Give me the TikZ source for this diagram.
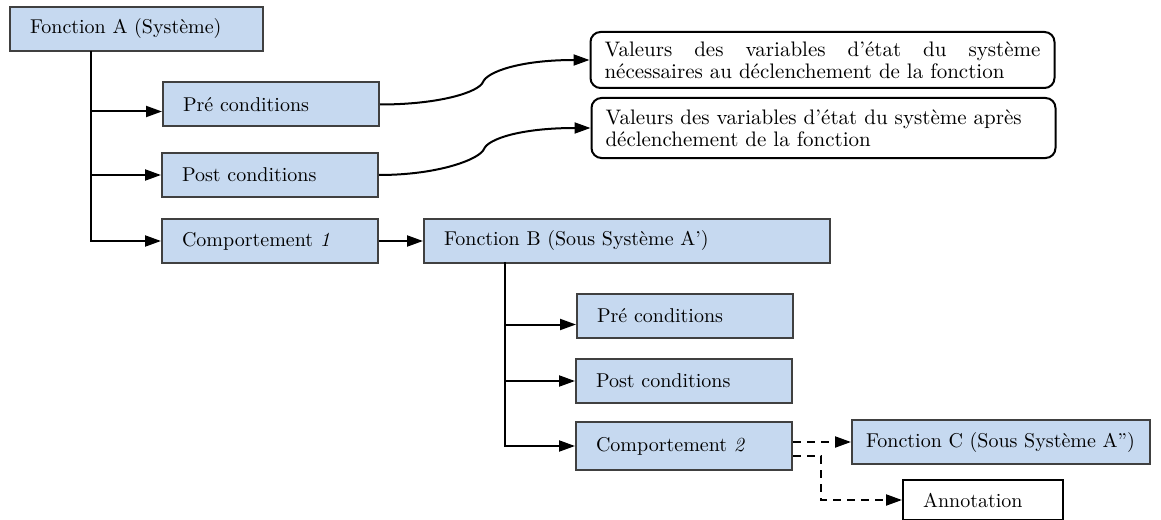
\documentclass[tikz,border=0pt]{standalone}
\usepackage{tikz}
\usetikzlibrary{arrows.meta}
\definecolor{boxblue}{RGB}{198,217,240}
\definecolor{boxedge}{RGB}{64,64,64}

\begin{document}
\begin{tikzpicture}[x=0.5pt,y=0.5pt,
		fct/.style={draw=boxedge, fill=boxblue, line width=1pt, text width=#1, align=left, inner xsep=10pt, inner ysep=0pt, minimum height=22pt},
		note/.style={draw=black, fill=white, line width=1pt, rounded corners=5pt, text width=218pt, inner xsep=7pt, inner ysep=0pt, minimum height=#1, font=\fontsize{10.5pt}{11pt}\selectfont},
		arr/.style={black, line width=1pt, -{Triangle[length=8pt,width=5.5pt]}},
		dashline/.style={dash pattern=on 4pt off 3pt}]
		\tikzstyle{every node}+=[font=\fontsize{10pt}{11pt}\selectfont]
		\useasboundingbox (0,0) rectangle (1161,-519);
		\clip (0,0) rectangle (1161,-519);
		\node [fct=106.5pt] (fa) at (136.5,-29) {Fonction A (Système)};
		\node [fct=88pt] (pa1) at (271,-104.5) {Pré conditions};
		\node [fct=88pt] (qa1) at (270,-175) {Post conditions};
		\node [fct=88pt] (ca1) at (270,-241) {Comportement \textit{1}};
		\node [fct=183pt] (fb) at (627,-240.5) {Fonction B (Sous Système A’)};
		\node [fct=88pt] (pb) at (685,-315.5) {Pré conditions};
		\node [fct=88pt] (qb) at (684,-381) {Post conditions};
		\node [fct=88pt, minimum height=24pt] (cb) at (684,-446) {Comportement \textit{2}};
		\node [fct=135pt, inner xsep=7pt] (fc) at (1001,-442) {Fonction C (Sous Système A”)};
		\node [draw=black, fill=white, line width=1pt, text width=60pt, align=left, inner xsep=10pt, minimum height=20pt] (an) at (983,-500) {Annotation};
		\node [note=28pt, align=justify] (v1) at (822.5,-60) {Valeurs des variables d’état du système\linebreak nécessaires au déclenchement de la fonction};
		\node [note=30pt, align=left] (v2) at (823.5,-128) {Valeurs des variables d’état du système après\\déclenchement de la fonction};
		\coordinate (ta) at (91,-51);
		\coordinate (tb) at (505,-262);
		\coordinate (pa1in) at ([yshift=-3.5pt]pa1.west);
		\coordinate (pbin) at ([yshift=-4.5pt]pb.west);
		\coordinate (cbo) at ([yshift=-5pt]cb.east);
		\coordinate (m1) at (483,-82);
		\coordinate (m2) at (484,-149);
		\draw [arr] (ta) |- (ca1.west);
		\draw [arr] (ta |- pa1in) -- (pa1in);
		\draw [arr] (ta |- qa1.west) -- (qa1.west);
		\draw [arr] (ca1.east) -- (ca1.east -| fb.west);
		\draw [arr] (tb) |- (cb.west);
		\draw [arr] (tb |- pbin) -- (pbin);
		\draw [arr] (tb |- qb.west) -- (qb.west);
		\draw [arr, dashline] (fc.west -| cb.east) -- (fc.west);
		\draw [arr, dashline] (cbo) -- ++(28,0) |- (an.west);
		\draw [arr] (pa1.east) .. controls +(60,0) and +(-4,-10) .. (m1) .. controls +(4,10) and +(-70,0) .. (v1.west);
		\draw [arr] (qa1.east) .. controls +(60,0) and +(-4,-10) .. (m2) .. controls +(4,10) and +(-70,0) .. (v2.west);
\end{tikzpicture}
\end{document}
